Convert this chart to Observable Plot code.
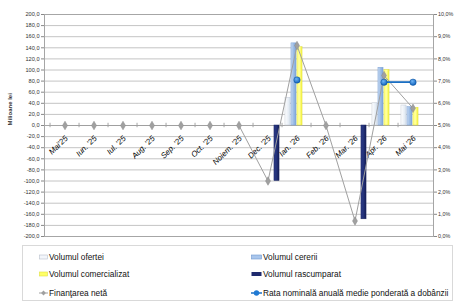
<!DOCTYPE html>
<html><head><meta charset="utf-8">
<script src="https://cdn.jsdelivr.net/npm/d3@7"></script>
<script src="https://cdn.jsdelivr.net/npm/@observablehq/plot@0.6"></script>
<style>
html,body{margin:0;padding:0;background:#fff;}
#wrap{position:relative;width:454px;height:302px;overflow:hidden;font-family:"Liberation Sans Narrow","Arial Narrow","Liberation Sans",Arial,sans-serif;}
#chart svg{display:block;}
#legend{position:absolute;left:22px;top:245px;width:431px;height:56px;border:1px solid #d9d9d9;box-sizing:border-box;}
.li{position:absolute;font-size:8.3px;color:#111;white-space:nowrap;height:10px;line-height:10px;}
.li svg{position:absolute;top:2px;}
.li span{position:absolute;top:0;}
</style></head><body><div id="wrap"><div id="chart"></div><div id="legend"></div></div>
<script>
// ---- data ----
const months = ["Mai'25","Iun. '25","Iul. '25","Aug. '25","Sep. '25","Oct. '25","Noiem. '25","Dec. '25","Ian. '26","Feb. '26","Mar. '26","Apr. '26","Mai '26"];
const volumOferta        = [null,null,null,null,null,null,null,null, 50,null,null, 40, 36];
const volumCerere        = [null,null,null,null,null,null,null,null,148,null,null,104, 33];
const volumComercializat = [null,null,null,null,null,null,null,null,141,null,null,100, 32];
const volumRascumparat   = [null,null,null,null,null,null,null,-100,null,null,-169,null,null];
const finantareNeta      = [0,0,0,0,0,0,0,-100,144,0,-172,90,31];
const rataDobanzii       = [null,null,null,null,null,null,null,null,7.05,null,null,6.95,6.95];
const leftTicks  = d3.range(-200, 201, 20);
const rightTicks = d3.range(0, 10.01, 1);
const seriesNames = ["Volumul ofertei","Volumul cererii","Volumul comercializat","Volumul rascumparat","Finanţarea netă","Rata nominală anuală medie ponderată a dobânzii"];

// ---- layout ----
const W = 454, H = 244, mL = 44, mR = 21, mT = 14, mB = 8;
const bw = (W - mL - mR) / months.length;
const rateToY = r => r * 40 - 200;   // 0..10% on right axis ↔ -200..200 on left axis
const fmt1 = v => v.toFixed(1).replace(".", ",");

const rows = arr => months.map((m, i) => ({month: m, value: arr[i]})).filter(d => d.value != null);
const barMark = (arr, i, fill, stroke) => Plot.barY(rows(arr), {
  x: "month", y1: () => 0, y2: "value", fill, stroke, strokeWidth: 0.5,
  insetLeft: bw / 2 - 12 + 6 * i, insetRight: bw / 2 + 6 - 6 * i
});

const rateRows = months.map((m, i) => ({month: m, value: rataDobanzii[i] == null ? null : rateToY(rataDobanzii[i])}));
const netRows = months.map((m, i) => ({month: m, value: finantareNeta[i]}));

const chart = Plot.plot({
  width: W, height: H, marginLeft: mL, marginRight: mR, marginTop: mT, marginBottom: mB,
  style: {fontFamily: '"Liberation Sans Narrow","Arial Narrow","Liberation Sans",Arial,sans-serif', fontSize: "6px", color: "#333", background: "white", overflow: "visible"},
  x: {type: "band", domain: months, padding: 0, axis: null},
  y: {domain: [-200, 200], axis: null},
  marks: [
    Plot.gridY(leftTicks, {stroke: "#c4c4c4", strokeOpacity: 1}),
    Plot.frame({stroke: "#a6a6a6"}),
    Plot.axisY({anchor: "left", ticks: leftTicks, tickFormat: fmt1, tickSize: 3, tickPadding: 2, stroke: "#888", label: null, fontSize: 5.6, fill: "#333"}),
    Plot.axisY({anchor: "right", ticks: rightTicks.map(rateToY), tickFormat: v => fmt1((v + 200) / 40) + "%", tickSize: 3, tickPadding: 1.5, stroke: "#888", label: null, fontSize: 5.4, fill: "#333"}),
    Plot.text(["Milioane lei"], {frameAnchor: "left", rotate: -90, dx: -34, fontWeight: "bold", fontSize: 6, fill: "#333"}),
    Plot.ruleY([0], {stroke: "#a6a6a6"}),
    Plot.ruleX(months, {x: d => d, y1: () => -4, y2: () => 4, dx: -bw / 2, stroke: "#a6a6a6"}),
    Plot.text(months, {x: d => d, y: () => 0, text: d => d, rotate: -45, textAnchor: "end", dx: 1.5, dy: 11.5, fontStyle: "italic", fontSize: 7.9, fill: "#000"}),
    barMark(volumOferta, 0, "url(#gOf)", "#c3cad6"),
    barMark(volumCerere, 1, "url(#gCe)", "#7aa0d4"),
    barMark(volumComercializat, 2, "url(#gCo)", "#e0e040"),
    barMark(volumRascumparat, 3, "url(#gRa)", "#1a2560"),
    Plot.line(netRows, {x: "month", y: "value", stroke: "#a0a0a0", strokeWidth: 1}),
    Plot.dot(netRows, {x: "month", y: "value", symbol: "diamond", r: 2.6, fill: "#a0a0a0", stroke: "#8a8a8a", strokeWidth: 0.5}),
    Plot.line(rateRows, {x: "month", y: "value", stroke: "#1a6fc4", strokeWidth: 1.8}),
    Plot.dot(rateRows.filter(d => d.value != null), {x: "month", y: "value", r: 3.2, fill: "url(#gRate)", stroke: "#0b4f9a", strokeWidth: 0.5})
  ]
});

const defs = `<defs>
<linearGradient id="gOf" x1="0" x2="1" y1="0" y2="0"><stop offset="0" stop-color="#ffffff"/><stop offset="1" stop-color="#dbe5f1"/></linearGradient>
<linearGradient id="gCe" x1="0" x2="1" y1="0" y2="0"><stop offset="0" stop-color="#c6d9f1"/><stop offset="0.5" stop-color="#9dbde6"/><stop offset="1" stop-color="#7ea6dc"/></linearGradient>
<linearGradient id="gCo" x1="0" x2="1" y1="0" y2="0"><stop offset="0" stop-color="#ffff80"/><stop offset="0.5" stop-color="#ffff99"/><stop offset="1" stop-color="#f5f23a"/></linearGradient>
<linearGradient id="gRa" x1="0" x2="1" y1="0" y2="0"><stop offset="0" stop-color="#2b3b86"/><stop offset="0.5" stop-color="#24327a"/><stop offset="1" stop-color="#141d55"/></linearGradient>
<radialGradient id="gRate" cx="0.4" cy="0.35" r="0.7"><stop offset="0" stop-color="#6fb4f5"/><stop offset="1" stop-color="#0a5db8"/></radialGradient>
</defs>`;
chart.insertAdjacentHTML("afterbegin", defs);
document.getElementById("chart").appendChild(chart);

// ---- legend ----
const sw = [
  `<svg width="9" height="6" style="width:9px;height:6px"><rect x="0.5" y="1" width="8" height="4" fill="#f3f6fb" stroke="#b8c0cc" stroke-width="0.6"/></svg>`,
  `<svg width="11" height="6" style="width:11px;height:6px"><rect x="0.5" y="1" width="10" height="4" fill="#a9c6ec" stroke="#6f97cf" stroke-width="0.6"/></svg>`,
  `<svg width="9" height="6" style="width:9px;height:6px"><rect x="0.5" y="1" width="8" height="4" fill="#ffff66" stroke="#e0e040" stroke-width="0.6"/></svg>`,
  `<svg width="11" height="6" style="width:11px;height:6px"><rect x="0.5" y="1" width="10" height="4" fill="#1f2a6e"/></svg>`,
  `<svg width="9" height="6" style="width:9px;height:6px"><line x1="0" x2="9" y1="3" y2="3" stroke="#a0a0a0"/><path d="M4.5 0.6L6.9 3L4.5 5.4L2.1 3Z" fill="#a0a0a0"/></svg>`,
  `<svg width="11" height="6" style="width:11px;height:6px"><line x1="0" x2="11" y1="3" y2="3" stroke="#1a6fc4" stroke-width="1.5"/><circle cx="5.5" cy="3" r="2.7" fill="#1f7ad4"/></svg>`
];
const pos = [[16, 6], [228, 6], [16, 23], [228, 23], [16, 42], [228, 42]];
const textOff = [10, 12, 10, 12, 10, 12];
const leg = document.getElementById("legend");
seriesNames.forEach((name, i) => {
  const d = document.createElement("div");
  d.className = "li";
  d.style.left = pos[i][0] + "px";
  d.style.top = pos[i][1] + "px";
  d.innerHTML = sw[i] + `<span style="left:${textOff[i]}px">${name}</span>`;
  leg.appendChild(d);
});
</script></body></html>
